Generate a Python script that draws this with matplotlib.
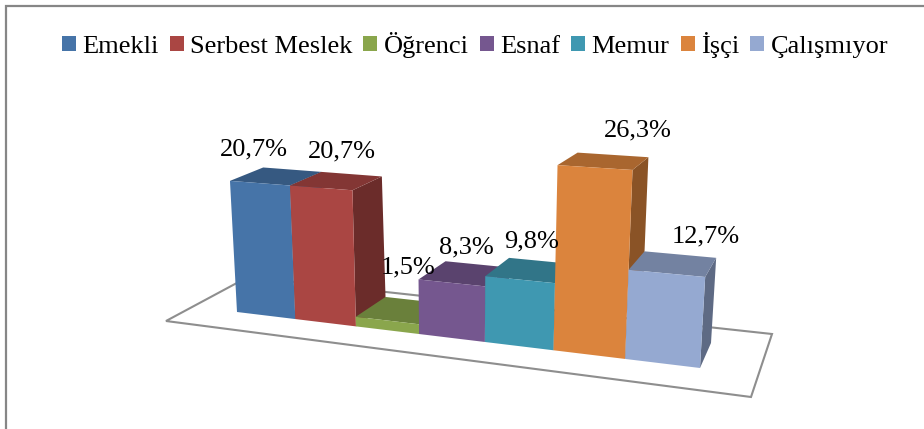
import numpy as np
import matplotlib
matplotlib.use("Agg")
import matplotlib.pyplot as plt
from matplotlib.patches import Patch

categories = ["Emekli", "Serbest Meslek", "Öğrenci", "Esnaf", "Memur", "İşçi", "Çalışmıyor"]
values = [20.7, 20.7, 1.5, 8.3, 9.8, 26.3, 12.7]
labels = ["20,7%", "20,7%", "1,5%", "8,3%", "9,8%", "26,3%", "12,7%"]
colors = ["#4674A8", "#AA4643", "#8AA64C", "#75578F", "#3F98B1", "#DB843D", "#95A9D1"]

# camera: where the corners of the front and back bar planes land on screen
Z_REF = 26.3
FRONT = [(237, 312), (700, 368), (711, 175), (228, 144)]   # (u0,z0) (u1,z0) (u1,z1) (u0,z1)
BACK = [(271, 293), (711, 343), (722, 162), (261, 132)]
FLOOR = [(166, 321), (751, 397), (772, 334), (248, 277)]
LABEL_OFFSETS = [(-6, -34), (21, -36), (21, -53), (15, -35), (12, -38), (43, -37), (39, -37)]
TOP_SHADE, SIDE_SHADE = 0.77, 0.63


def homography(corners):
    src = [(0, 0), (1, 0), (1, 1), (0, 1)]
    A, b = [], []
    for (s, t), (x, y) in zip(src, corners):
        A.append([s, t, 1, 0, 0, 0, -s * x, -t * x])
        A.append([0, 0, 0, s, t, 1, -s * y, -t * y])
        b += [x, y]
    return np.append(np.linalg.solve(np.array(A, float), np.array(b, float)), 1).reshape(3, 3)


H_FRONT, H_BACK = homography(FRONT), homography(BACK)
N = len(categories)


def project(u, z, back=False):
    p = (H_BACK if back else H_FRONT) @ np.array([u / N, z / Z_REF, 1.0])
    return p[:2] / p[2]


def shade(color, k):
    return tuple(c * k for c in matplotlib.colors.to_rgb(color))


plt.rcParams["font.family"] = ["Liberation Serif", "DejaVu Serif"]
fig = plt.figure(figsize=(9.24, 4.29), dpi=100)
ax = fig.add_axes([0, 0, 1, 1])
ax.set_xlim(0, 924)
ax.set_ylim(429, 0)
ax.axis("off")

# chart frame (left and top edges are in view)
ax.plot([5.5, 5.5, 924], [429, 6, 6], color="#868686", lw=1.6, solid_joinstyle="miter", zorder=1)

# floor
ax.fill(*zip(*FLOOR), facecolor="white", edgecolor="#8E8E8E", lw=1.5, joinstyle="miter", zorder=2)

for i, (val, col) in enumerate(zip(values, colors)):
    fl0, fr0 = project(i, 0), project(i + 1, 0)
    fl1, fr1 = project(i, val), project(i + 1, val)
    bl1, br1 = project(i, val, True), project(i + 1, val, True)
    br0 = project(i + 1, 0, True)
    z = 3 + i
    ax.fill(*zip(fr0, br0, br1, fr1), color=shade(col, SIDE_SHADE), lw=0, zorder=z)
    ax.fill(*zip(fl1, fr1, br1, bl1), color=shade(col, TOP_SHADE), lw=0, zorder=z)
    ax.fill(*zip(fl0, fr0, fr1, fl1), color=col, lw=0, zorder=z)
    mid = project(i + 0.5, val)
    dx, dy = LABEL_OFFSETS[i]
    ax.text(mid[0] + dx, mid[1] + dy, labels[i], ha="center", va="center",
            fontsize=19, color="black", zorder=20)

handles = [Patch(facecolor=c, edgecolor="none") for c in colors]
ax.legend(handles, categories, ncol=N, loc="center", bbox_to_anchor=(475, 45),
          bbox_transform=ax.transData, frameon=False, fontsize=19,
          handlelength=0.53, handleheight=0.53, handletextpad=0.24,
          columnspacing=0.42, borderpad=0, borderaxespad=0)

fig.savefig("out.png", dpi=100)
